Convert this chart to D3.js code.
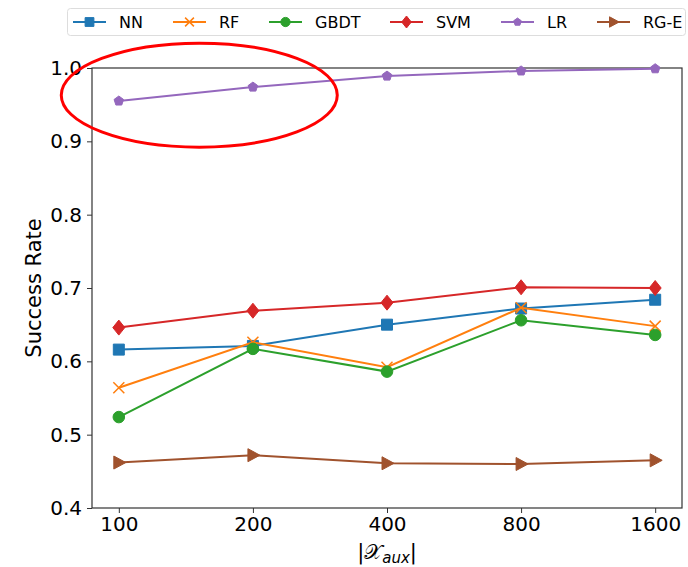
<!DOCTYPE html>
<html>
<head>
<meta charset="utf-8">
<script src="https://cdn.jsdelivr.net/npm/d3@7"></script>
<style>
body { margin: 0; background: #fff; }
text { font-family: "DejaVu Sans", sans-serif; }
</style>
</head>
<body>
<svg id="chart"></svg>
<script>
var width = 688;
var height = 567;

// data
var sizes = ["100", "200", "400", "800", "1600"];
var nn   = [0.616, 0.621, 0.650, 0.672, 0.684];
var rf   = [0.564, 0.626, 0.592, 0.673, 0.648];
var gbdt = [0.524, 0.617, 0.586, 0.656, 0.636];
var svm  = [0.646, 0.669, 0.680, 0.701, 0.700];
var lr   = [0.955, 0.974, 0.989, 0.996, 0.999];
var rge  = [0.462, 0.472, 0.461, 0.460, 0.465];
var yTicks = [0.4, 0.5, 0.6, 0.7, 0.8, 0.9, 1.0];

var series = [
  {name: "NN",   values: nn,   color: "#1f77b4", marker: "square"},
  {name: "RF",   values: rf,   color: "#ff7f0e", marker: "x"},
  {name: "GBDT", values: gbdt, color: "#2ca02c", marker: "circle"},
  {name: "SVM",  values: svm,  color: "#d62728", marker: "diamond"},
  {name: "LR",   values: lr,   color: "#9467bd", marker: "pentagon"},
  {name: "RG-E", values: rge,  color: "#a0522d", marker: "triangle"}
];

var margin = {left: 92, right: 6, top: 68, bottom: 59};

var svg = d3.select("#chart")
  .attr("width", width)
  .attr("height", height);

var x = d3.scaleLinear()
  .domain([-0.2, sizes.length - 1 + 0.2])
  .range([margin.left, width - margin.right]);

var y = d3.scaleLinear()
  .domain([0.4, 1.0])
  .range([height - margin.bottom, margin.top]);

// axes
svg.append("g")
  .attr("transform", "translate(0," + (height - margin.bottom) + ")")
  .call(d3.axisBottom(x).tickValues(d3.range(sizes.length)).tickFormat(function(i) { return sizes[i]; }).tickSizeOuter(0).tickSize(5).tickPadding(4))
  .call(function(g) {
    g.select(".domain").remove();
    g.selectAll("text").style("font-size", "20px").attr("fill", "#000");
    g.selectAll("line").attr("stroke", "#333");
  });

svg.append("g")
  .attr("transform", "translate(" + margin.left + ",0)")
  .call(d3.axisLeft(y).tickValues(yTicks).tickFormat(d3.format(".1f")).tickSizeOuter(0).tickSize(5).tickPadding(5))
  .call(function(g) {
    g.select(".domain").remove();
    g.selectAll("text").style("font-size", "20px").attr("fill", "#000");
    g.selectAll("line").attr("stroke", "#333");
  });

// frame
svg.append("rect")
  .attr("x", margin.left)
  .attr("y", margin.top)
  .attr("width", width - margin.left - margin.right)
  .attr("height", height - margin.top - margin.bottom)
  .attr("fill", "none")
  .attr("stroke", "#333")
  .attr("stroke-width", 1.2);

// axis labels
svg.append("text")
  .attr("transform", "translate(41," + ((margin.top + height - margin.bottom) / 2) + ") rotate(-90)")
  .attr("text-anchor", "middle")
  .style("font-size", "21px")
  .text("Success Rate");

var xl = svg.append("text")
  .attr("x", (margin.left + width - margin.right) / 2)
  .attr("y", 559)
  .attr("text-anchor", "middle")
  .style("font-size", "21px");
xl.append("tspan").text("|");
xl.append("tspan").text("𝒳");
xl.append("tspan").attr("dy", 4).style("font-size", "15px").style("font-style", "italic").text("aux");
xl.append("tspan").attr("dy", -4).text("|");

function markerPath(type, k) {
  k = k || 1;
  if (type === "square") return d3.symbol().type(d3.symbolSquare).size(121 * k * k)();
  if (type === "circle") return d3.symbol().type(d3.symbolCircle).size(105 * k * k)();
  if (type === "diamond") return "M0," + (-7.5 * k) + "L" + (6 * k) + ",0L0," + (7.5 * k) + "L" + (-6 * k) + ",0Z";
  if (type === "x") return "M" + (-5.5 * k) + "," + (-5.5 * k) + "L" + (5.5 * k) + "," + (5.5 * k) + "M" + (-5.5 * k) + "," + (5.5 * k) + "L" + (5.5 * k) + "," + (-5.5 * k);
  if (type === "triangle") return "M" + (-5 * k) + "," + (-6.5 * k) + "L" + (7 * k) + ",0L" + (-5 * k) + "," + (6.5 * k) + "Z";
  if (type === "pentagon") {
    var pts = d3.range(5).map(function(i) {
      var a = -Math.PI / 2 + i * 2 * Math.PI / 5;
      return [5 * k * Math.cos(a), 5 * k * Math.sin(a)];
    });
    return "M" + pts.join("L") + "Z";
  }
}

var line = d3.line()
  .x(function(d, i) { return x(i); })
  .y(function(d) { return y(d); });

series.forEach(function(s) {
  svg.append("path")
    .datum(s.values)
    .attr("d", line)
    .attr("fill", "none")
    .attr("stroke", s.color)
    .attr("stroke-width", 2);

  svg.selectAll(null)
    .data(s.values)
    .enter()
    .append("path")
    .attr("transform", function(d, i) { return "translate(" + x(i) + "," + y(d) + ")"; })
    .attr("d", markerPath(s.marker))
    .attr("fill", s.marker === "x" ? "none" : s.color)
    .attr("stroke", s.color)
    .attr("stroke-width", s.marker === "x" ? 1.5 : 1);
});

// red annotation ellipse round the LR start
svg.append("ellipse")
  .attr("cx", x(0.6))
  .attr("cy", y(0.963))
  .attr("rx", 138)
  .attr("ry", 52)
  .attr("fill", "none")
  .attr("stroke", "#ff0000")
  .attr("stroke-width", 3);

// legend
var legend = svg.append("g");
legend.append("rect")
  .attr("x", 67.5)
  .attr("y", 8.5)
  .attr("width", 618)
  .attr("height", 27)
  .attr("rx", 3)
  .attr("fill", "#fff")
  .attr("stroke", "#ddd");

var legendX = [73, 173, 269, 390, 501, 597];
series.forEach(function(s, i) {
  var g = legend.append("g").attr("transform", "translate(" + legendX[i] + ",22)");
  g.append("line").attr("x1", 0).attr("x2", 33).attr("stroke", s.color).attr("stroke-width", 2);
  g.append("path")
    .attr("transform", "translate(16.5,0)")
    .attr("d", markerPath(s.marker, 0.8))
    .attr("fill", s.marker === "x" ? "none" : s.color)
    .attr("stroke", s.color)
    .attr("stroke-width", s.marker === "x" ? 1.5 : 1);
  g.append("text")
    .attr("x", 46)
    .attr("y", 6)
    .style("font-size", "16px")
    .text(s.name);
});
</script>
</body>
</html>
